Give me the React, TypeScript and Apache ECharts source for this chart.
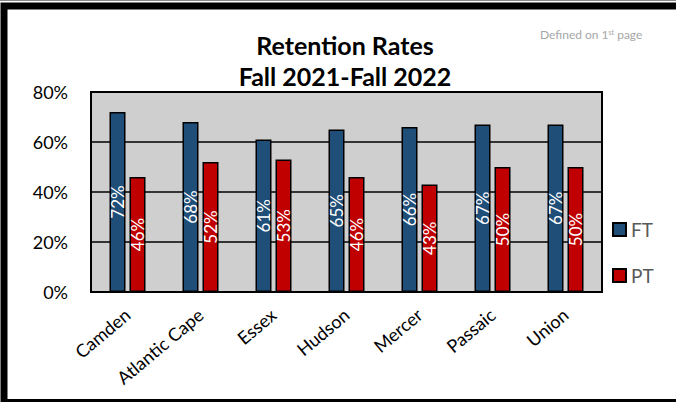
import React, { useEffect, useRef } from "react";
import * as echarts from "echarts";

const categories = ["Camden", "Atlantic Cape", "Essex", "Hudson", "Mercer", "Passaic", "Union"];
const ftValues = [72, 68, 61, 65, 66, 67, 67];
const ptValues = [46, 52, 53, 46, 43, 50, 50];
const seriesNames = ["FT", "PT"];
const yTicks = { min: 0, max: 80, interval: 20 };

const FONT = "Lato, 'Open Sans', sans-serif";

export default function App() {
  const ref = useRef<HTMLDivElement>(null);
  useEffect(() => {
    if (!ref.current) return;
    const chart = echarts.init(ref.current, null, { renderer: "svg" });
    const barLabel = {
      show: true,
      position: "inside",
      rotate: 90,
      color: "#ffffff",
      fontSize: 17,
      fontFamily: FONT,
      formatter: (p: any) => p.value + "%",
    };
    chart.setOption({
      animation: false,
      backgroundColor: "#ffffff",
      textStyle: { fontFamily: FONT },
      title: {
        text: "Retention Rates\nFall 2021-Fall 2022",
        left: 340,
        top: 24,
        textAlign: "center",
        textStyle: { fontSize: 25, fontWeight: "bold", color: "#000", lineHeight: 31, fontFamily: FONT },
      },
      graphic: [
        { type: "line", shape: { x1: 0, y1: 0.5, x2: 676, y2: 0.5 }, style: { stroke: "#888", lineWidth: 1 } },
        {
          type: "rect",
          shape: { x: 4, y: 6, width: 720, height: 396.5 },
          style: { fill: "none", stroke: "#000", lineWidth: 7 },
          silent: true,
        },
        {
          type: "text",
          x: 540,
          y: 28,
          style: {
            text: "Defined on 1{sup|st} page",
            fill: "#a6a6a6",
            fontSize: 12,
            fontFamily: FONT,
            rich: { sup: { fontSize: 7, fill: "#a6a6a6", verticalAlign: "top", fontFamily: FONT } },
          },
        },
      ],
      legend: {
        data: seriesNames,
        orient: "vertical",
        left: 607,
        top: 215,
        itemWidth: 13,
        itemHeight: 13,
        itemGap: 27,
        icon: "rect",
        textStyle: { fontSize: 19, color: "#595959", fontFamily: FONT },
      },
      grid: {
        left: 91,
        right: 74,
        top: 92,
        bottom: 110,
        show: true,
        backgroundColor: "#d0cfd0",
        borderColor: "#000",
        borderWidth: 2,
      },
      xAxis: {
        type: "category",
        data: categories,
        axisLine: { show: true, lineStyle: { color: "#000", width: 2 } },
        axisTick: { show: false },
        axisLabel: { rotate: 40, fontSize: 18, color: "#000", margin: 20, interval: 0, fontFamily: FONT },
      },
      yAxis: {
        type: "value",
        min: yTicks.min,
        max: yTicks.max,
        interval: yTicks.interval,
        axisLine: { show: true, lineStyle: { color: "#000", width: 2 } },
        axisTick: { show: false },
        splitLine: { show: true, lineStyle: { color: "#000", width: 1.5 } },
        axisLabel: { formatter: "{value}%", fontSize: 18, color: "#000", margin: 23, fontFamily: FONT },
      },
      series: [
        {
          name: seriesNames[0],
          type: "bar",
          data: ftValues,
          barWidth: 16,
          barGap: "25%",
          itemStyle: { color: "#1f4e79", borderColor: "#000", borderWidth: 1.5 },
          label: barLabel,
        },
        {
          name: seriesNames[1],
          type: "bar",
          data: ptValues,
          barWidth: 16,
          itemStyle: { color: "#c00000", borderColor: "#000", borderWidth: 1.5 },
          label: barLabel,
        },
      ],
    });
    return () => chart.dispose();
  }, []);
  return (
    <div
      ref={ref}
      style={{ position: "absolute", left: 0, top: 0, width: 676, height: 402 }}
    />
  );
}
